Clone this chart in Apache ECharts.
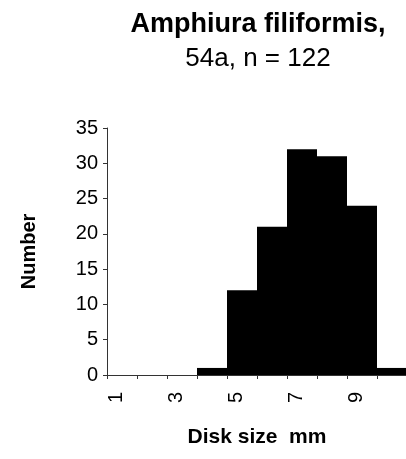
<!DOCTYPE html>
<html lang="en">
  <head>
    <meta charset="UTF-8" />
    <title>Amphiura filiformis, 54a</title>
    <script src="https://cdn.jsdelivr.net/npm/echarts@6/dist/echarts.min.js"></script>
  </head>
  <body style="margin: 0; background: #fff">
    <div id="container" style="width: 406px; height: 459px"></div>
    <script>
      // disk size classes (mm) and the number of animals in each
      const sizeClasses = ["1", "2", "3", "4", "5", "6", "7", "8", "9", "10"];
      const counts = [0, 0, 0, 1, 12, 21, 32, 31, 24, 1];
      const yTicks = { min: 0, max: 35, step: 5 };

      const chart = echarts.init(document.getElementById("container"));
      const font = "'Liberation Sans', Arial, sans-serif";

      chart.setOption({
        animation: false,
        title: {
          text: "{a|Amphiura filiformis,}\n{b|54a, n = 122}",
          left: 253,
          top: 3,
          textAlign: "center",
          textStyle: {
            rich: {
              a: { fontFamily: font, fontSize: 27, fontWeight: "bold", color: "#000", lineHeight: 34 },
              b: { fontFamily: font, fontSize: 26, fontWeight: "normal", color: "#000", lineHeight: 34 }
            }
          }
        },
        grid: {
          left: 107,
          top: 128,
          bottom: 84,
          width: 300,
          outerBoundsMode: "none"
        },
        xAxis: {
          type: "category",
          data: sizeClasses,
          boundaryGap: true,
          name: "Disk size  mm",
          nameLocation: "middle",
          nameGap: 52,
          nameTextStyle: { fontFamily: font, fontSize: 21, fontWeight: "bold", color: "#000" },
          axisLine: { lineStyle: { color: "#333", width: 1 } },
          axisTick: { show: true, interval: 0, length: 4, lineStyle: { color: "#333" } },
          axisLabel: {
            interval: 1,
            rotate: 90,
            margin: 17,
            verticalAlign: "bottom",
            lineHeight: 12,
            fontFamily: font,
            fontSize: 20,
            color: "#000"
          }
        },
        yAxis: {
          type: "value",
          min: yTicks.min,
          max: yTicks.max,
          interval: yTicks.step,
          name: "Number",
          nameLocation: "middle",
          nameGap: 68,
          nameTextStyle: { fontFamily: font, fontSize: 20, fontWeight: "bold", color: "#000" },
          splitLine: { show: false },
          axisLine: { show: true, lineStyle: { color: "#333", width: 1 } },
          axisTick: { show: true, length: 4, lineStyle: { color: "#333" } },
          axisLabel: { margin: 9, fontFamily: font, fontSize: 20, color: "#000" }
        },
        series: [
          {
            type: "bar",
            data: counts,
            barCategoryGap: "0%",
            itemStyle: { color: "#000" }
          }
        ]
      });
    </script>
  </body>
</html>
